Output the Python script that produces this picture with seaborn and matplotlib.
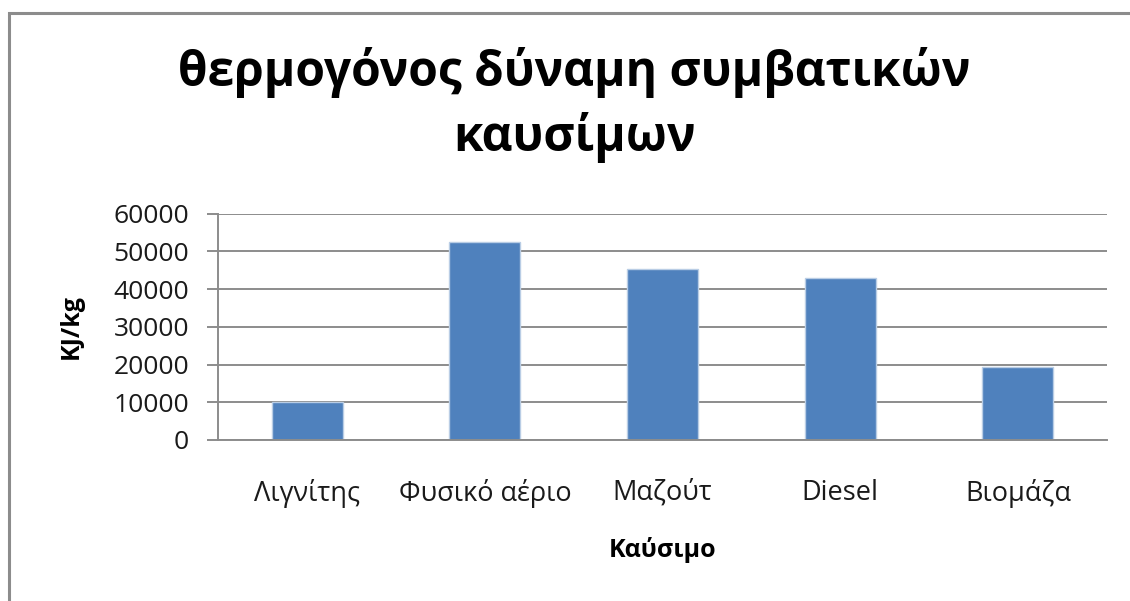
import matplotlib
matplotlib.use("Agg")
import matplotlib.pyplot as plt
from matplotlib.patches import Rectangle
import seaborn as sns

# Heating value of conventional fuels (KJ/kg)
fuels = ["Λιγνίτης", "Φυσικό αέριο", "Μαζούτ", "Diesel", "Βιομάζα"]
heating_values = [10000, 52500, 45300, 43000, 19400]
y_ticks = [0, 10000, 20000, 30000, 40000, 50000, 60000]

sns.set_theme(style="white")
plt.rcParams["font.family"] = ["Open Sans", "DejaVu Sans"]

fig = plt.figure(figsize=(11.3, 6.01), dpi=100)
fig.patch.set_facecolor("white")

ax = fig.add_axes([0.1932, 0.2679, 0.9794 - 0.1932, 0.3765])

sns.barplot(x=fuels, y=heating_values, color="#4F81BD", width=0.4,
            edgecolor="#B9CDE5", linewidth=1.0, saturation=1, ax=ax)

ax.set_ylim(0, 60000)
ax.set_yticks(y_ticks)
ax.set_yticklabels([str(v) for v in y_ticks])
ax.set_xlim(-0.5, len(fuels) - 0.5)

grid_color = "#8C8C8C"
ax.yaxis.grid(True, color=grid_color, linewidth=1.4)
ax.set_axisbelow(True)
for side in ["top", "right"]:
    ax.spines[side].set_visible(False)
for side in ["left", "bottom"]:
    ax.spines[side].set_color(grid_color)
    ax.spines[side].set_linewidth(1.4)

ax.tick_params(axis="y", which="major", left=True, length=8, width=1.4,
               color=grid_color, pad=13, labelsize=19, labelcolor="#1a1a1a")
ax.tick_params(axis="x", which="major", bottom=False, length=0, pad=28,
               labelsize=19.5, labelcolor="#1a1a1a")

ax.set_ylabel("KJ/kg", fontsize=18, fontweight="bold", color="black")
ax.yaxis.set_label_coords(-0.152, 0.5)
ax.set_xlabel("Καύσιμο", fontsize=18, fontweight="bold", color="black")
ax.xaxis.set_label_coords(0.5, -0.43)

fig.text(0.508, 0.825, "θερμογόνος δύναμη συμβατικών\nκαυσίμων",
         ha="center", va="center", fontsize=34.5, fontweight="bold",
         color="black", linespacing=1.36)

# Chart-area frame
frame = Rectangle((8.5 / 1130, -0.1), 1.2, 1.1 - 12.5 / 601,
                  transform=fig.transFigure, fill=False,
                  edgecolor="#8C8C8C", linewidth=2.2)
fig.patches.append(frame)

fig.savefig("out.png", dpi=100)
